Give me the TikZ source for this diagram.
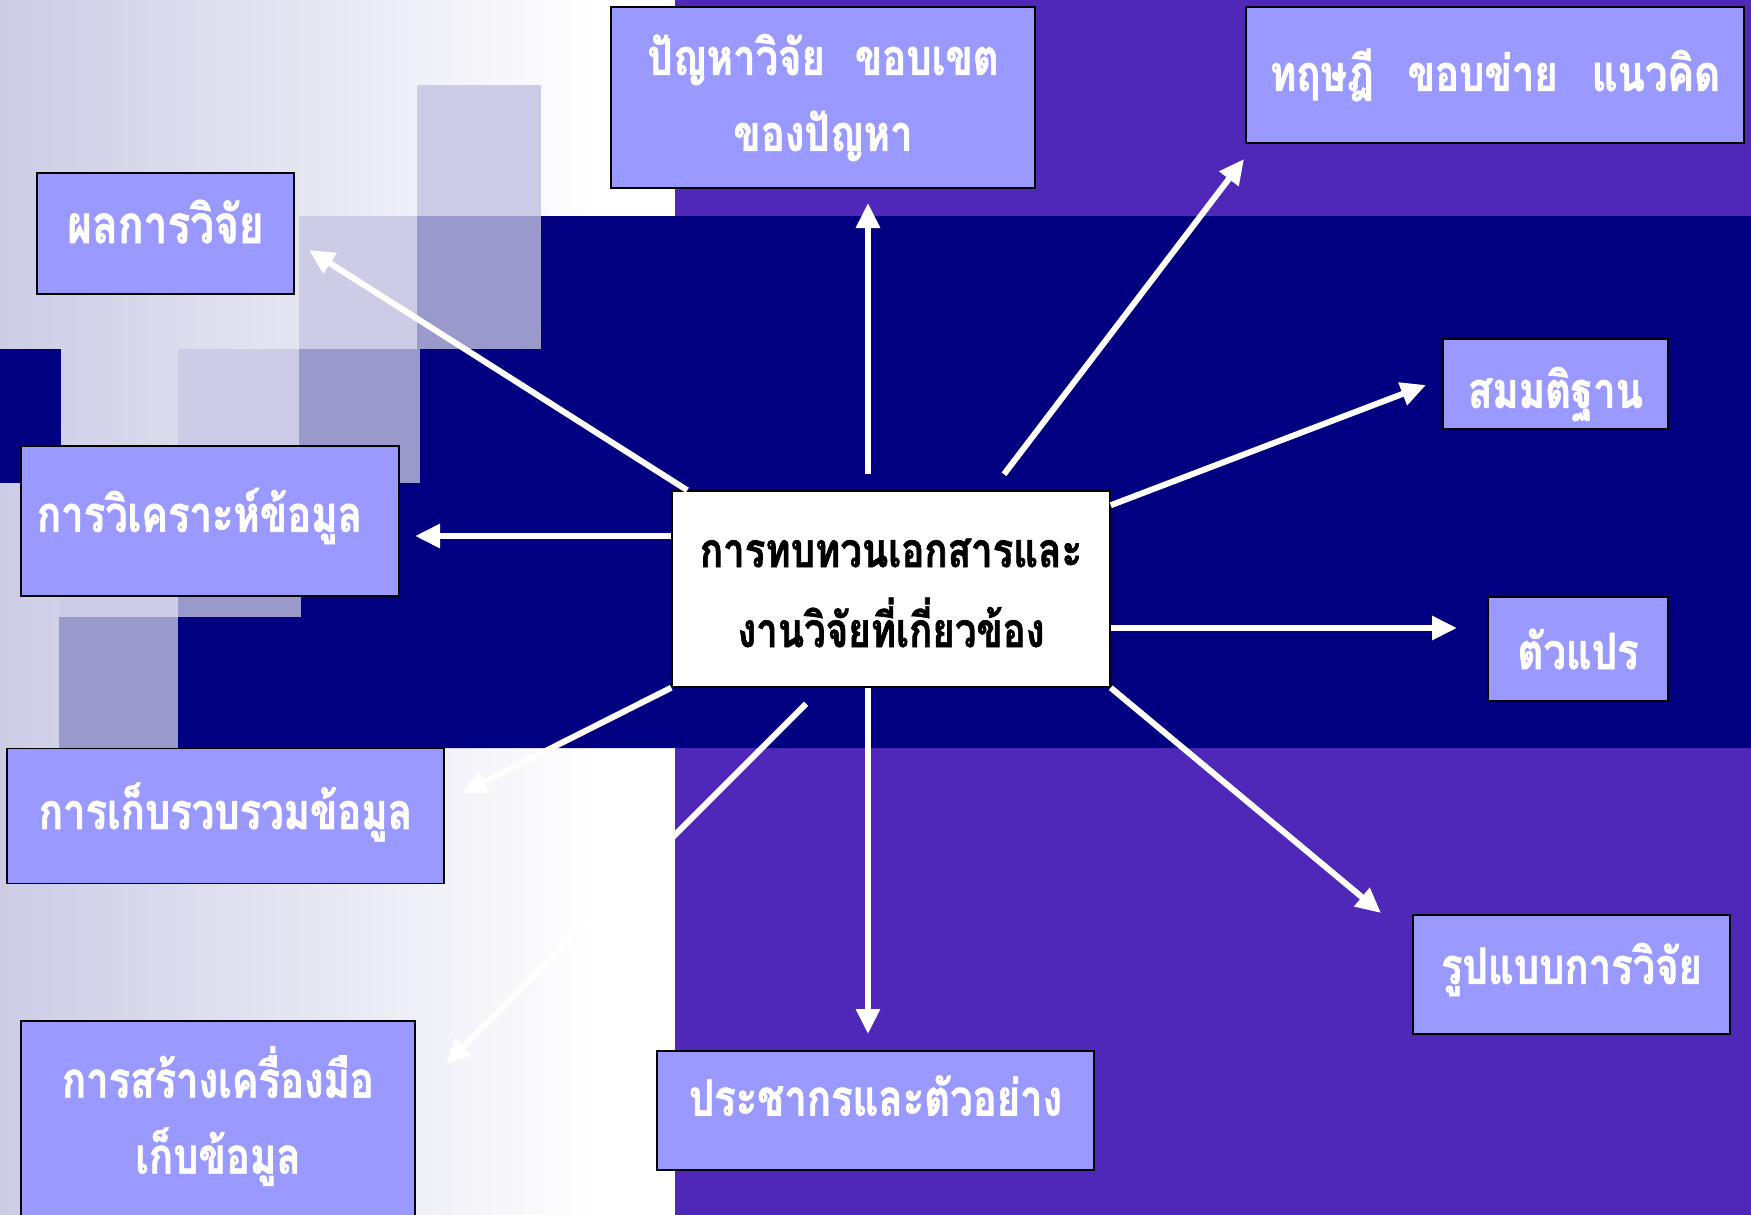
\documentclass[tikz,border=0pt]{standalone}
\usepackage{fontspec}
\newfontfamily\thaifont[Script=Thai,FakeStretch=0.8,BoldFeatures={FakeBold=1.2}]{Loma}
\usetikzlibrary{arrows.meta}
\definecolor{boxfill}{RGB}{153,153,255}
\definecolor{navyband}{RGB}{0,0,128}
\definecolor{violetbg}{RGB}{80,40,185}
\definecolor{lilac}{RGB}{204,204,230}
\definecolor{lilacdark}{RGB}{153,153,204}
\newcommand{\lift}[2]{\raisebox{#1}[\height][\depth]{#2}}

\begin{document}
\begin{tikzpicture}[x=1pt,y=-1pt,
    topic/.style={draw=black,line width=1.5pt,fill=boxfill,text=white,align=center,inner sep=0pt,
      font=\thaifont\bfseries\fontsize{50}{76}\selectfont},
    arr/.style={white,line width=6pt,-{Triangle[length=25pt,width=23pt]}}]
  \useasboundingbox (0,0) rectangle (1751,1215);
  \clip (0,0) rectangle (1751,1215);

  \shade[left color=lilac,right color=white] (0,0) rectangle (600,1215);
  \fill[white] (600,0) rectangle (675,1215);
  \fill[violetbg] (675,0) rectangle (1751,1215);
  \fill[navyband] (541,216) -- (1751,216) -- (1751,748) -- (178,748) -- (178,617) -- (301,617)
    -- (301,483) -- (420,483) -- (420,349) -- (541,349) -- cycle;
  \fill[navyband] (0,349) rectangle (61,483);
  \foreach \xa/\ya/\xb/\yb in {417/85/541/216, 299/216/417/349, 178/349/299/483, 59/483/178/617}
    \fill[lilac] (\xa,\ya) rectangle (\xb,\yb);
  \foreach \xa/\ya/\xb/\yb in {417/216/541/349, 299/349/420/483, 178/483/301/617, 59/617/178/748}
    \fill[lilacdark] (\xa,\ya) rectangle (\xb,\yb);

  \node[draw=black,line width=1.5pt,fill=white,text=black,align=center,inner sep=0pt,
    minimum width=438pt,minimum height=196pt,font=\thaifont\bfseries\fontsize{48}{80}\selectfont]
    (review) at (891,589) {\lift{-4pt}{การทบทวนเอกสารและ}\\\lift{-4pt}{งานวิจัยที่เกี่ยวข้อง}};

  \node[topic,minimum width=257pt,minimum height=121pt] (res) at (165.5,233.5)
    {\lift{12pt}{\fontsize{53}{76}\selectfont ผลการวิจัย}};
  \node[topic,minimum width=424pt,minimum height=181pt] (prob) at (823,97.5)
    {ปัญหาวิจัย\hspace{30pt}ขอบเขต\\ของปัญหา};
  \node[topic,minimum width=498pt,minimum height=136pt] (theo) at (1495,75)
    {ทฤษฎี\hspace{34pt}ขอบข่าย\hspace{34pt}แนวคิด};
  \node[topic,minimum width=225pt,minimum height=90pt] (hyp) at (1555.5,384) {\lift{-10pt}{สมมติฐาน}};
  \node[topic,minimum width=180pt,minimum height=104pt] (var) at (1578,649) {ตัวแปร};
  \node[topic,minimum width=317pt,minimum height=119pt] (des) at (1571.5,974.5) {\lift{5pt}{รูปแบบการวิจัย}};
  \node[topic,minimum width=437pt,minimum height=119pt] (pop) at (875.5,1110.5)
    {\lift{15pt}{ประชากรและตัวอย่าง}};
  \node[topic,minimum width=394pt,minimum height=198pt] (tool) at (218,1120)
    {\lift{4pt}{การสร้างเครื่องมือ}\\\lift{4pt}{เก็บข้อมูล}};
  \node[topic,minimum width=437pt,minimum height=135pt] (coll) at (225.5,816) {\lift{4pt}{การเก็บรวบรวมข้อมูล}};
  \node[topic,minimum width=378pt,minimum height=150pt,inner xsep=16pt,text width=346pt,align=left]
    (ana) at (210,521) {\lift{5pt}{การวิเคราะห์ข้อมูล}};

  \coordinate (tres) at (309,250);
  \coordinate (tprob) at (868,203);
  \coordinate (ttheo) at (1244,159);
  \coordinate (thyp) at (1426,385);
  \coordinate (tvar) at (1457,628);
  \coordinate (tdes) at (1381,913);
  \coordinate (tpop) at (868,1034);
  \coordinate (ttool) at (446,1064);
  \coordinate (tcoll) at (462,793);
  \coordinate (tana) at (415,536);

  \draw[arr] ([xshift=16pt]review.north west) -- (tres);
  \draw[arr] ([xshift=-23pt,yshift=16pt]review.north) -- (tprob);
  \draw[arr] ([xshift=113pt,yshift=16pt]review.north) -- (ttheo);
  \draw[arr] ([yshift=-15pt]review.north east) -- (thyp);
  \draw[arr] ([yshift=-39pt]review.east) -- (tvar);
  \draw[arr] (review.south east) -- (tdes);
  \draw[arr] ([xshift=-23pt]review.south) -- (tpop);
  \draw[arr] ([xshift=-85pt,yshift=-16pt]review.south) -- (ttool);
  \draw[arr] (review.south west) -- (tcoll);
  \draw[arr] ([yshift=53pt]review.west) -- (tana);
\end{tikzpicture}
\end{document}
